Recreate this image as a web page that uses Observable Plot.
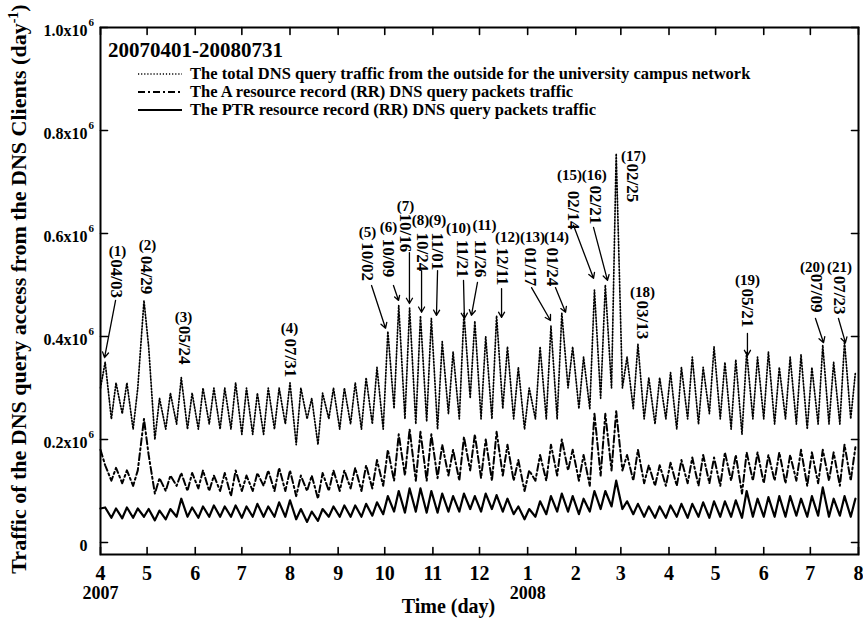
<!DOCTYPE html>
<html><head><meta charset="utf-8">
<script src="https://cdn.jsdelivr.net/npm/d3@7"></script>
<script src="https://cdn.jsdelivr.net/npm/@observablehq/plot@0.6"></script>
<style>
body{margin:0;background:#fff;}
#chart svg{font-family:"Liberation Serif","Times New Roman",serif;font-weight:bold;}
</style>
</head><body><div id="chart"></div>
<script>
// ---- data (values in units of 10^6 per day) ----
// one low (Sunday) and one high (Wednesday) reading per week, week 0 starting 2007-04-01
const totalTraffic = [
 0.30,0.35, 0.24,0.31, 0.25,0.31, 0.22,0.30, 0.47,0.38, 0.20,0.28, 0.22,0.29, 0.23,0.32, 0.22,0.29, 0.22,0.30,
 0.23,0.30, 0.22,0.30, 0.22,0.31, 0.21,0.30, 0.21,0.29, 0.21,0.30, 0.22,0.30, 0.23,0.31, 0.19,0.30, 0.24,0.28,
 0.19,0.29, 0.24,0.30, 0.22,0.30, 0.23,0.31, 0.22,0.32, 0.23,0.34, 0.22,0.41, 0.26,0.46, 0.24,0.455, 0.23,0.44,
 0.235,0.435, 0.22,0.39, 0.25,0.37, 0.24,0.445, 0.28,0.43, 0.24,0.40, 0.24,0.44, 0.26,0.38, 0.24,0.34, 0.22,0.30,
 0.24,0.38, 0.24,0.42, 0.24,0.445, 0.30,0.38, 0.26,0.36, 0.26,0.49, 0.28,0.50, 0.30,0.755, 0.30,0.36, 0.26,0.385,
 0.24,0.32, 0.23,0.32, 0.24,0.33, 0.22,0.34, 0.24,0.36, 0.23,0.34, 0.25,0.38, 0.24,0.35, 0.22,0.355, 0.21,0.37,
 0.24,0.36, 0.24,0.37, 0.23,0.34, 0.24,0.36, 0.23,0.365, 0.22,0.34, 0.23,0.383, 0.23,0.35, 0.23,0.39, 0.24,0.33
];
const aTraffic = [
 0.18,0.15, 0.12,0.145, 0.115,0.14, 0.11,0.14, 0.24,0.17, 0.095,0.125, 0.10,0.13, 0.11,0.135, 0.10,0.135, 0.105,0.14,
 0.10,0.13, 0.10,0.135, 0.09,0.14, 0.10,0.13, 0.10,0.135, 0.11,0.14, 0.10,0.145, 0.10,0.14, 0.09,0.13, 0.10,0.13,
 0.085,0.135, 0.10,0.14, 0.10,0.14, 0.105,0.145, 0.10,0.15, 0.105,0.16, 0.11,0.18, 0.12,0.21, 0.13,0.22, 0.12,0.215,
 0.12,0.21, 0.125,0.19, 0.13,0.18, 0.12,0.205, 0.14,0.21, 0.125,0.20, 0.12,0.215, 0.13,0.19, 0.12,0.16, 0.10,0.14,
 0.12,0.17, 0.12,0.19, 0.13,0.20, 0.14,0.18, 0.12,0.17, 0.11,0.25, 0.13,0.25, 0.14,0.255, 0.14,0.17, 0.12,0.18,
 0.115,0.15, 0.11,0.15, 0.11,0.155, 0.11,0.16, 0.115,0.165, 0.11,0.17, 0.115,0.165, 0.11,0.175, 0.12,0.17, 0.095,0.175,
 0.12,0.175, 0.115,0.17, 0.12,0.175, 0.115,0.17, 0.12,0.18, 0.11,0.175, 0.115,0.18, 0.12,0.175, 0.11,0.19, 0.12,0.185
];
const ptrTraffic = [
 0.066,0.068, 0.048,0.066, 0.047,0.068, 0.048,0.066, 0.050,0.065, 0.043,0.062, 0.045,0.065, 0.050,0.085, 0.050,0.068, 0.048,0.070,
 0.050,0.072, 0.050,0.070, 0.050,0.072, 0.048,0.070, 0.050,0.075, 0.050,0.070, 0.050,0.078, 0.050,0.082, 0.045,0.065, 0.040,0.060,
 0.042,0.065, 0.050,0.070, 0.050,0.072, 0.050,0.072, 0.050,0.075, 0.052,0.078, 0.055,0.090, 0.060,0.100, 0.058,0.105, 0.060,0.105,
 0.058,0.100, 0.058,0.095, 0.060,0.090, 0.060,0.095, 0.065,0.090, 0.060,0.095, 0.065,0.092, 0.060,0.085, 0.055,0.070, 0.045,0.065,
 0.050,0.080, 0.055,0.090, 0.060,0.095, 0.060,0.090, 0.055,0.085, 0.060,0.100, 0.065,0.100, 0.070,0.120, 0.065,0.080, 0.055,0.075,
 0.050,0.070, 0.048,0.070, 0.048,0.072, 0.050,0.075, 0.048,0.075, 0.050,0.078, 0.048,0.080, 0.050,0.080, 0.050,0.082, 0.048,0.100,
 0.050,0.085, 0.050,0.088, 0.050,0.090, 0.050,0.090, 0.052,0.085, 0.050,0.090, 0.052,0.107, 0.050,0.085, 0.052,0.090, 0.050,0.085
];
const weekdayOffsets = [0, 3]; // Sunday low, Wednesday high

const yTickValues = [0, 0.2, 0.4, 0.6, 0.8, 1.0];
const yearLabels = ["2007", "2008"];

const seriesNames = [
  "The total DNS query traffic from the outside for the university campus network",
  "The A resource record (RR) DNS query packets traffic",
  "The PTR resource record (RR) DNS query packets traffic"
];
const periodLabel = "20070401-20080731";

// annotations (x in days since 2007-04-01, y in 10^6)
const annNum = ["(1)","(2)","(3)","(4)","(5)","(6)","(7)","(8)","(9)","(10)","(11)","(12)","(13)","(14)","(15)","(16)","(17)","(18)","(19)","(20)","(21)"];
const annText = ["04/03","04/29","05/24","07/31","10/02","10/09","10/16","10/24","11/01","11/21","11/26","12/11","01/17","01/24","02/14","02/21","02/25","03/13","05/21","07/09","07/23"];
const annNumDay = [10.9,30.3,53.4,121.7,171.9,185.4,196.4,206.0,217.0,230.5,247.2,262.0,278.1,293.6,302.0,317.8,343.1,348.9,416.5,458.4,475.8];
const annNumVal = [0.565,0.577,0.437,0.417,0.602,0.612,0.654,0.625,0.625,0.610,0.616,0.592,0.592,0.592,0.713,0.713,0.751,0.487,0.509,0.534,0.534];
const annTextDay = [10.3,29.6,54.1,122.3,171.9,185.4,196.4,207.3,217.0,233.1,244.6,258.8,276.8,291.0,304.5,318.7,342.5,348.9,416.5,461.0,475.8];
const annTextTop = [0.550,0.557,0.421,0.396,0.583,0.590,0.639,0.602,0.602,0.588,0.588,0.573,0.573,0.573,0.683,0.693,0.736,0.470,0.493,0.522,0.518];
const arrowFromDay = [9.7,174.5,188.6,198.9,206.7,217.0,233.7,242.7,258.2,277.5,292.9,304.5,317.4,416.5,460.3,475.1];
const arrowFromVal = [0.470,0.499,0.499,0.563,0.528,0.528,0.509,0.505,0.493,0.495,0.495,0.616,0.612,0.406,0.435,0.435];
const arrowToDay = [2.6,183.5,191.9,198.9,206.7,216.3,234.3,238.8,258.2,289.7,299.4,317.4,326.4,416.5,465.5,479.6];
const arrowToVal = [0.359,0.416,0.470,0.464,0.447,0.441,0.435,0.441,0.437,0.431,0.447,0.513,0.509,0.363,0.388,0.388];

// ---- build ----
const T0 = Date.UTC(2007, 3, 1);
const dayToDate = d => new Date(T0 + d * 86400000);
const pointDays = d3.range(totalTraffic.length / 2).flatMap(k => weekdayOffsets.map(o => 7 * k + o));
const rows = (vals) => vals.map((v, i) => ({date: dayToDate(pointDays[i]), value: v}));
const totalRows = rows(totalTraffic), aRows = rows(aTraffic), ptrRows = rows(ptrTraffic);

const xStart = new Date(T0), xEnd = new Date(Date.UTC(2008, 7, 1));
const monthTicks = d3.utcMonth.range(xStart, new Date(Date.UTC(2008, 7, 2)));
const yearTicks = [new Date(Date.UTC(2007,3,1)), new Date(Date.UTC(2008,0,1))];

const tickShape = {draw(ctx, l) { ctx.moveTo(0, 0); ctx.lineTo(0, -l); }};
const ann = annNum.map((n, i) => ({n, t: annText[i], nd: dayToDate(annNumDay[i]), nv: annNumVal[i], td: dayToDate(annTextDay[i]), tv: annTextTop[i]}));
const arrows = arrowFromDay.map((d, i) => ({x1: dayToDate(d), y1: arrowFromVal[i], x2: dayToDate(arrowToDay[i]), y2: arrowToVal[i]}));

const DOT = "1.2,1.9", DASHDOT = "7,3,2,3";

const plot = Plot.plot({
  width: 863, height: 621,
  marginLeft: 100, marginRight: 5, marginTop: 27, marginBottom: 67,
  x: {type: "utc", domain: [xStart, xEnd], axis: null},
  y: {domain: [-0.0233, 1.0], axis: null},
  style: {fontFamily: '"Liberation Serif", serif', fontWeight: "bold", background: "white"},
  marks: [
    Plot.line(totalRows, {x: "date", y: "value", stroke: "black", strokeWidth: 1.7, strokeDasharray: DOT}),
    Plot.line(aRows, {x: "date", y: "value", stroke: "black", strokeWidth: 2, strokeDasharray: DASHDOT}),
    Plot.line(ptrRows, {x: "date", y: "value", stroke: "black", strokeWidth: 2.2}),
    Plot.frame({stroke: "black", strokeWidth: 2}),
    // inward ticks on all four sides
    Plot.vector(yTickValues, {y: d => d, frameAnchor: "left", rotate: 90, length: 7, anchor: "start", shape: tickShape, stroke: "black", strokeWidth: 1.6}),
    Plot.vector(yTickValues, {y: d => d, frameAnchor: "right", rotate: -90, length: 7, anchor: "start", shape: tickShape, stroke: "black", strokeWidth: 1.6}),
    Plot.vector(monthTicks, {x: d => d, frameAnchor: "bottom", rotate: 0, length: 7, anchor: "start", shape: tickShape, stroke: "black", strokeWidth: 1.6}),
    Plot.vector(monthTicks, {x: d => d, frameAnchor: "top", rotate: 180, length: 7, anchor: "start", shape: tickShape, stroke: "black", strokeWidth: 1.6}),
    // tick labels
    Plot.text(monthTicks, {x: d => d, frameAnchor: "bottom", dy: 19, text: d => String(d.getUTCMonth() + 1), fontSize: 20, fontWeight: "bold", lineAnchor: "middle"}),
    Plot.text(yearTicks, {x: d => d, frameAnchor: "bottom", dy: 39, text: (d, i) => yearLabels[i], fontSize: 18, fontWeight: "bold", lineAnchor: "middle"}),
    Plot.text(yTickValues, {y: d => d, frameAnchor: "left", dx: -13, dy: 3, textAnchor: "end", lineAnchor: "middle", text: d => d === 0 ? "0" : d.toFixed(1) + "x10", fontSize: 16, fontWeight: "bold"}),
    Plot.text(yTickValues.filter(d => d > 0), {y: d => d, frameAnchor: "left", dx: -12, dy: -5, textAnchor: "start", lineAnchor: "middle", text: () => "6", fontSize: 11, fontWeight: "bold"}),
    Plot.text([new Date(Date.UTC(2007, 10, 11))], {x: d => d, frameAnchor: "bottom", dy: 52, text: () => "Time (day)", fontSize: 20, fontWeight: "bold", lineAnchor: "middle"}),
    // annotations
    Plot.arrow(arrows, {x1: "x1", y1: "y1", x2: "x2", y2: "y2", stroke: "black", strokeWidth: 1.3, headLength: 7, bend: 0}),
    Plot.text(ann, {x: "nd", y: "nv", text: "n", fontSize: 15, fontWeight: "bold", lineAnchor: "middle"}),
    Plot.text(ann, {x: "td", y: "tv", text: "t", rotate: 90, textAnchor: "start", lineAnchor: "middle", fontSize: 17, fontWeight: "bold"})
  ]
});

const svg = d3.select(plot);
const font = '"Liberation Serif", serif';
// legend box inside the frame
svg.append("text").attr("x", 108).attr("y", 57).attr("text-anchor", "start").attr("font-size", 21)
  .attr("font-weight", "bold").attr("font-family", font).text(periodLabel);
const dashes = [DOT, DASHDOT, null];
const widths = [1.7, 2, 2.2];
seriesNames.forEach((name, i) => {
  const yy = 74 + i * 18;
  const ln = svg.append("line").attr("x1", 138).attr("x2", 182).attr("y1", yy).attr("y2", yy)
    .attr("stroke", "black").attr("stroke-width", widths[i]);
  if (dashes[i]) ln.attr("stroke-dasharray", dashes[i]);
  svg.append("text").attr("x", 190).attr("y", yy + 5).attr("text-anchor", "start").attr("font-size", 16.5)
    .attr("font-weight", "bold").attr("font-family", font).text(name);
});
// y-axis title with superscript
const yt = svg.append("text").attr("transform", "translate(26,289) rotate(-90)").attr("text-anchor", "middle")
  .attr("font-size", 22).attr("font-weight", "bold").attr("font-family", font);
yt.append("tspan").text("Traffic of the DNS query access from the DNS Clients (day");
yt.append("tspan").attr("dy", -8).attr("font-size", 14).text("-1");
yt.append("tspan").attr("dy", 8).text(")");

document.getElementById("chart").appendChild(plot);
</script>
</body></html>
